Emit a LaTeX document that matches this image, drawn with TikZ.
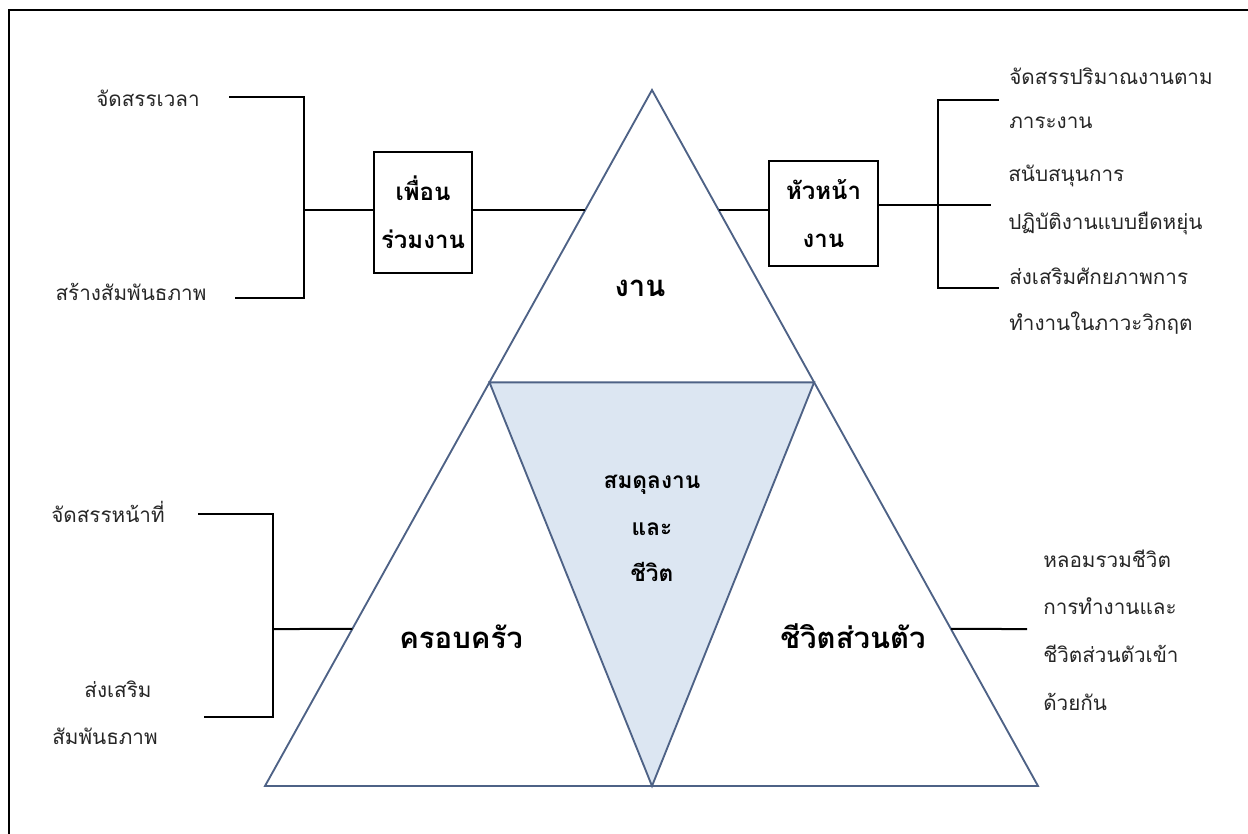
\documentclass[tikz,border=0pt]{standalone}
\usepackage{fontspec}
\newfontfamily\thaifont[Script=Thai]{Loma}
\usetikzlibrary{calc}

\definecolor{edgeblue}{RGB}{78,98,134}
\definecolor{fillblue}{RGB}{220,230,242}

\tikzset{
  side/.style={draw=edgeblue, line width=1.4pt, line join=miter},
  link/.style={draw=black, line width=1.5pt},
  note/.style={font=\thaifont\fontsize{15.5}{18}\selectfont, text=black!85, inner sep=0pt, anchor=base},
  rnote/.style={note, anchor=base west},
  big/.style={font=\thaifont\bfseries\fontsize{22}{24}\selectfont, inner sep=0pt, anchor=base},
  mid/.style={font=\thaifont\bfseries\fontsize{17}{20}\selectfont, inner sep=0pt, anchor=base},
  role/.style={draw=black, line width=1.1pt, align=center,
    font=\thaifont\bfseries\fontsize{18}{36}\selectfont}
}

\begin{document}
\begin{tikzpicture}[x=0.75pt,y=-0.75pt]
  \useasboundingbox (0,0) rectangle (1248,834);

  % Frame (top and left only)
  \draw[line width=2.2pt] (1248,10) -- (9,10) -- (9,834);

  % Triangle corners
  \coordinate (apex) at (652,90);
  \coordinate (bl) at (265,786);
  \coordinate (br) at (1038,786);
  \coordinate (ml) at ($(bl)!0.58!(apex)$);
  \coordinate (mr) at ($(br)!0.58!(apex)$);
  \coordinate (mb) at (652,786);

  % Inner triangle and sides
  \fill[fillblue] (ml) -- (mr) -- (mb) -- cycle;
  \draw[side] (bl) -- (apex) -- (br) -- cycle;
  \draw[side] (ml) -- (mr) -- (mb) -- cycle;

  % Points on the sides
  \coordinate (wl) at ($(bl)!0.8276!(apex)$);
  \coordinate (wr) at ($(br)!0.8276!(apex)$);
  \coordinate (fl) at ($(bl)!0.2256!(apex)$);
  \coordinate (sr) at ($(br)!0.2256!(apex)$);

  % Labels in the triangles
  \node[big] (work) at (640,296) {งาน};
  \node[big] (family) at (461,648) {ครอบครัว};
  \node[big] (self) at (853,648) {ชีวิตส่วนตัว};
  \node[mid] (bal1) at (652,488) {สมดุลงาน};
  \node[mid] (bal2) at (652,535) {และ};
  \node[mid] (bal3) at (652,581) {ชีวิต};

  % Boxes
  \node[role, minimum width=73.5pt, minimum height=90.75pt] (mates) at (423,212.5) {เพื่อน\\ร่วมงาน};
  \node[role, minimum width=81.75pt, minimum height=78.75pt] (boss) at (823.5,213.5) {หัวหน้า\\งาน};
  \draw[link] (mates.east |- wl) -- (wl);
  \draw[link] (wr) -- (boss.west |- wr);

  % Left top bracket
  \node[note] (time) at (148,107) {จัดสรรเวลา};
  \node[note] (bond) at (131,300) {สร้างสัมพันธภาพ};
  \coordinate (lj) at (304,210);
  \coordinate (lt) at (229,97);
  \coordinate (lb) at (235,298);
  \draw[link] (lt) -| (lj) |- (lb);
  \draw[link] (lj) -- (mates.west |- lj);

  % Right top bracket
  \coordinate (rj) at (938,205);
  \coordinate (rt) at (999,100);
  \coordinate (rm) at (991,205);
  \coordinate (rb) at (999,288);
  \draw[link] (boss.east |- rj) -- (rj) -- (rm);
  \draw[link] (rt) -| (rj) |- (rb);
  \node[rnote] (load1) at (1009,85) {จัดสรรปริมาณงานตาม};
  \node[rnote] (load2) at (1009,129) {ภาระงาน};
  \node[rnote] (flex1) at (1008,182) {สนับสนุนการ};
  \node[rnote] (flex2) at (1008,229) {ปฏิบัติงานแบบยืดหยุ่น};
  \node[rnote] (crisis1) at (1009,284) {ส่งเสริมศักยภาพการ};
  \node[rnote] (crisis2) at (1009,330) {ทำงานในภาวะวิกฤต};

  % Left bottom bracket
  \node[note] (duty) at (108,522) {จัดสรรหน้าที่};
  \node[note] (kin1) at (118,697) {ส่งเสริม};
  \node[note] (kin2) at (105,744) {สัมพันธภาพ};
  \coordinate (fj) at (273,629);
  \coordinate (ft) at (198,514);
  \coordinate (fb) at (204,717);
  \draw[link] (ft) -| (fj) |- (fb);
  \draw[link] (fj) -- (fl);

  % Right bottom line
  \coordinate (se) at (1027,629);
  \draw[link] (sr) -- (se);
  \node[rnote] (blend1) at (1043,567) {หลอมรวมชีวิต};
  \node[rnote] (blend2) at (1043,614) {การทำงานและ};
  \node[rnote] (blend3) at (1043,662) {ชีวิตส่วนตัวเข้า};
  \node[rnote] (blend4) at (1043,710) {ด้วยกัน};
\end{tikzpicture}
\end{document}
